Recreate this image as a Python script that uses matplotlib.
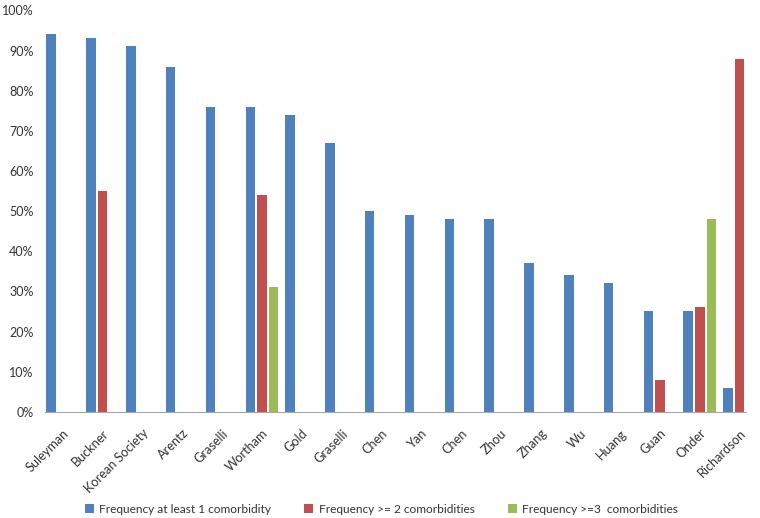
import numpy as np
from matplotlib import pyplot as plt
from matplotlib.ticker import PercentFormatter
from matplotlib.transforms import ScaledTranslation

# Donnees
authors = ["Suleyman", "Buckner", "Korean Society", "Arentz", "Graselli", "Wortham",
           "Gold", "Graselli", "Chen", "Yan", "Chen", "Zhou", "Zhang", "Wu", "Huang",
           "Guan", "Onder", "Richardson"]
at_least_1 = [94, 93, 91, 86, 76, 76, 74, 67, 50, 49, 48, 48, 37, 34, 32, 25, 25, 6]
at_least_2 = [0, 55, 0, 0, 0, 54, 0, 0, 0, 0, 0, 0, 0, 0, 0, 8, 26, 88]
at_least_3 = [0, 0, 0, 0, 0, 31, 0, 0, 0, 0, 0, 0, 0, 0, 0, 0, 48, 0]

series_names = ["Frequency at least 1 comorbidity",
                "Frequency >= 2 comorbidities",
                "Frequency >=3  comorbidities"]
colors = ["#4F81BD", "#C0504D", "#9BBB59"]

plt.rcParams['font.family'] = ['Lato', 'DejaVu Sans']

fig = plt.figure(figsize=(7.6, 5.18), dpi=100)
ax = fig.add_axes([0.059, 0.205, 0.922, 0.775])

x = np.arange(len(authors))
w = 0.24
pitch = 0.29
for k, vals in enumerate([at_least_1, at_least_2, at_least_3]):
    ax.bar(x + (k - 1) * pitch, vals, width=w, color=colors[k], label=series_names[k])

ax.set_ylim(0, 100)
ax.set_yticks(range(0, 101, 10))
ax.yaxis.set_major_formatter(PercentFormatter(decimals=0))
ax.set_xlim(-0.45, 17.15)
ax.set_xticks(x)
ax.set_xticklabels(authors, rotation=45, ha="right", rotation_mode="anchor", fontsize=9.2)
# decaler un peu les etiquettes vers la droite, comme dans Excel
offset = ScaledTranslation(6 / 100, 0, fig.dpi_scale_trans)
for lab in ax.get_xticklabels():
    lab.set_transform(lab.get_transform() + offset)
ax.tick_params(axis="y", labelsize=9, length=0, pad=8)
ax.tick_params(axis="x", length=0, pad=11)
ax.tick_params(colors="#333333")

for s in ["top", "right", "left"]:
    ax.spines[s].set_visible(False)
ax.spines["bottom"].set_color("#A6A6A6")

fig.legend(loc="lower center", bbox_to_anchor=(0.502, -0.014), ncol=3, frameon=False,
           fontsize=8.6, handlelength=0.75, handleheight=0.75, columnspacing=2.8,
           handletextpad=0.45, labelcolor="#333333")

plt.savefig("out.png")
